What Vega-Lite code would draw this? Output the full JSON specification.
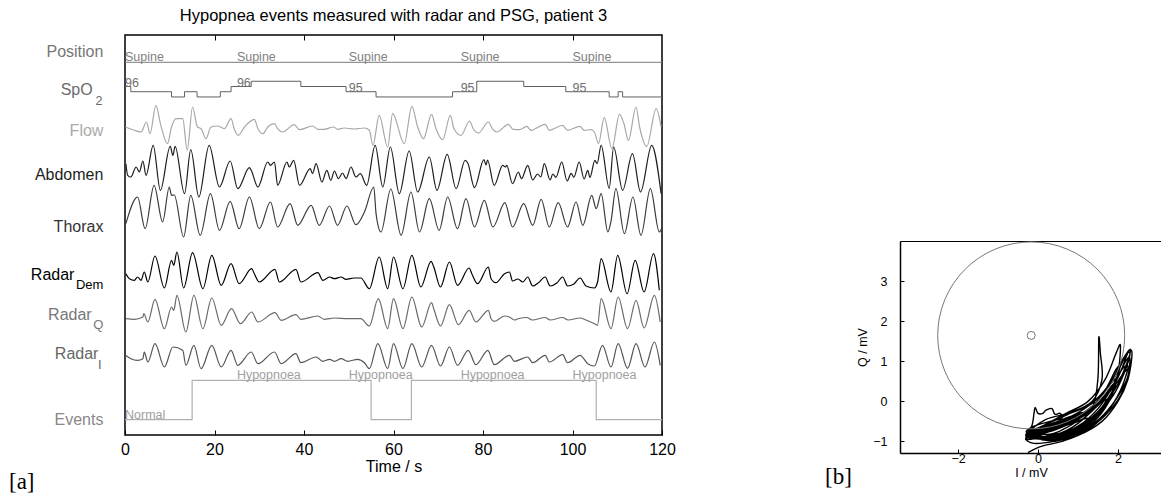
{
"$schema":"https://vega.github.io/schema/vega-lite/v6.json",
"padding":{"left":8,"top":7,"right":0,"bottom":0},
"config":{"font":"Liberation Sans","view":{"stroke":null},"axis":{"grid":false,"labelFont":"Liberation Sans","titleFont":"Liberation Sans","labelColor":"#000","titleColor":"#000","domainColor":"#000","tickColor":"#000","titleFontWeight":"normal"},"title":{"font":"Liberation Sans","fontWeight":"normal"}},
"datasets":{
"pos":[{"t":0,"v":1},{"t":120,"v":1}],
"poslab":[{"t":0,"v":1,"txt":"Supine"},{"t":25,"v":1,"txt":"Supine"},{"t":50,"v":1,"txt":"Supine"},{"t":75,"v":1,"txt":"Supine"},{"t":100,"v":1,"txt":"Supine"}],
"spo2":[{"t":0,"v":96},{"t":1.3,"v":95},{"t":10.4,"v":94},{"t":13.3,"v":95},{"t":16.1,"v":94},{"t":21.3,"v":95},{"t":23.7,"v":96},{"t":28.2,"v":97},{"t":39.3,"v":96},{"t":49.4,"v":95},{"t":56.1,"v":94},{"t":73.2,"v":95},{"t":78.6,"v":97},{"t":89.1,"v":96},{"t":98.5,"v":95},{"t":108.2,"v":94},{"t":110.2,"v":95},{"t":111.2,"v":94},{"t":120,"v":94}],
"spo2lab":[{"t":0,"v":96,"txt":"96"},{"t":25,"v":96,"txt":"96"},{"t":50,"v":95,"txt":"95"},{"t":75,"v":95,"txt":"95"},{"t":100,"v":95,"txt":"95"}],
"flow":[{"t":0.1,"a":1.7},{"t":2.1,"a":-1.6},{"t":3.6,"a":-3.3},{"t":4.8,"a":6.7},{"t":5.6,"a":-5},{"t":6.9,"a":23.4},{"t":8.0,"a":3.4},{"t":9.5,"a":-15},{"t":10.4,"a":1.7},{"t":11.4,"a":10},{"t":12.9,"a":10},{"t":13.9,"a":-21.6},{"t":15.1,"a":21.7},{"t":16.2,"a":1.7},{"t":17.0,"a":0},{"t":18.1,"a":-10},{"t":19.2,"a":1.7},{"t":20.7,"a":2.7},{"t":22.2,"a":0},{"t":23.7,"a":10},{"t":24.4,"a":0},{"t":25.3,"a":-6.6},{"t":26.7,"a":1.7},{"t":28.9,"a":9.4},{"t":29.7,"a":0},{"t":30.8,"a":-5},{"t":31.9,"a":1.7},{"t":33.4,"a":5},{"t":34.1,"a":0},{"t":35.2,"a":-3.3},{"t":37.8,"a":4},{"t":39.0,"a":-1},{"t":41.9,"a":2.7},{"t":43.1,"a":-0.6},{"t":44.5,"a":-0.6},{"t":46.6,"a":1.7},{"t":47.5,"a":-0.6},{"t":49.0,"a":0.7},{"t":51.2,"a":-0.3},{"t":53.5,"a":0.7},{"t":54.6,"a":-1.6},{"t":55.4,"a":-16.6},{"t":56.8,"a":13.4},{"t":58.7,"a":-18.3},{"t":59.8,"a":15},{"t":62.4,"a":-15},{"t":64.1,"a":22.4},{"t":65.4,"a":1.7},{"t":66.7,"a":-10},{"t":68.5,"a":14.4},{"t":69.5,"a":0},{"t":71.0,"a":-11},{"t":72.7,"a":13.4},{"t":73.5,"a":0},{"t":75.1,"a":-6.6},{"t":77.0,"a":7.7},{"t":77.8,"a":0},{"t":79.0,"a":-4.3},{"t":81.2,"a":6.7},{"t":82.2,"a":-0.7},{"t":83.1,"a":-3.3},{"t":85.7,"a":4.4},{"t":86.7,"a":-0.7},{"t":88.2,"a":-1},{"t":89.8,"a":2.4},{"t":90.7,"a":-1.6},{"t":93.9,"a":4.4},{"t":94.8,"a":-1.6},{"t":97.8,"a":3.4},{"t":98.9,"a":-1.6},{"t":101.7,"a":2.4},{"t":102.6,"a":-1.6},{"t":104.1,"a":-1},{"t":104.9,"a":-3.3},{"t":105.8,"a":-15},{"t":107.1,"a":11},{"t":108.8,"a":-20},{"t":110.5,"a":14.4},{"t":111.5,"a":5},{"t":112.5,"a":-11.7},{"t":114.2,"a":21.7},{"t":115.0,"a":1.7},{"t":116.6,"a":-17.6},{"t":118.7,"a":20},{"t":119.8,"a":1.7}],
"abd":[{"t":0.2,"a":10.3},{"t":0.6,"a":-1.3},{"t":1.3,"a":-3},{"t":2.5,"a":7},{"t":3.2,"a":2},{"t":4.0,"a":13},{"t":4.7,"a":-1.3},{"t":6.3,"a":28.7},{"t":7.9,"a":-16.3},{"t":10.1,"a":27.7},{"t":10.7,"a":18.7},{"t":11.2,"a":27.7},{"t":13.3,"a":-19.7},{"t":14.7,"a":24.3},{"t":16.5,"a":-23},{"t":18.8,"a":28.7},{"t":21.1,"a":-13},{"t":23.5,"a":13},{"t":25.2,"a":-14.7},{"t":27.8,"a":6.3},{"t":28.2,"a":3.7},{"t":29.7,"a":-13},{"t":31.9,"a":12},{"t":32.5,"a":8.7},{"t":33.4,"a":12},{"t":34.1,"a":-11.3},{"t":36.2,"a":12},{"t":36.7,"a":7},{"t":37.7,"a":13.7},{"t":39.0,"a":-11.3},{"t":41.4,"a":5.3},{"t":41.9,"a":0.3},{"t":42.7,"a":10.3},{"t":44.0,"a":-8},{"t":45.1,"a":3.7},{"t":46.0,"a":-6.3},{"t":46.8,"a":3},{"t":47.7,"a":-4.7},{"t":48.6,"a":1},{"t":49.4,"a":-4.7},{"t":50.5,"a":7},{"t":51.6,"a":-3},{"t":52.6,"a":0.3},{"t":54.0,"a":-11.3},{"t":55.9,"a":28.7},{"t":57.6,"a":-13},{"t":59.3,"a":27},{"t":61.3,"a":-19.7},{"t":63.5,"a":23},{"t":65.4,"a":-18},{"t":68.0,"a":17},{"t":69.7,"a":-16.3},{"t":72.0,"a":19.7},{"t":74.0,"a":-14.7},{"t":76.0,"a":13.7},{"t":76.6,"a":11},{"t":78.1,"a":-13.7},{"t":80.2,"a":14.3},{"t":80.7,"a":9},{"t":81.0,"a":14},{"t":82.5,"a":-11.3},{"t":84.4,"a":8.7},{"t":85.0,"a":7},{"t":85.3,"a":8.7},{"t":86.6,"a":-9.7},{"t":87.9,"a":2},{"t":88.6,"a":-4.7},{"t":90.0,"a":8.7},{"t":91.1,"a":-6},{"t":92.2,"a":0},{"t":92.9,"a":-3},{"t":93.7,"a":10.3},{"t":95.0,"a":-6},{"t":95.6,"a":0},{"t":96.3,"a":-3.3},{"t":97.6,"a":12},{"t":98.8,"a":-7},{"t":99.7,"a":0.6},{"t":100.3,"a":-3.3},{"t":101.5,"a":12},{"t":102.6,"a":-5},{"t":103.4,"a":3.7},{"t":103.9,"a":-3.3},{"t":105.0,"a":13.7},{"t":105.5,"a":10.3},{"t":106.4,"a":28.7},{"t":108.2,"a":-14.3},{"t":109.2,"a":27},{"t":111.2,"a":-16.3},{"t":113.4,"a":20.3},{"t":115.2,"a":-18},{"t":117.7,"a":28.7},{"t":119.8,"a":-19.7}],
"tho":[{"t":0.2,"a":-11.7},{"t":2.8,"a":15},{"t":4.5,"a":-16.7},{"t":6.5,"a":26.7},{"t":8.4,"a":-10},{"t":9.9,"a":25},{"t":10.4,"a":16.7},{"t":11.0,"a":17},{"t":13.1,"a":-25},{"t":14.7,"a":16.7},{"t":16.8,"a":-23.3},{"t":19.1,"a":18.3},{"t":21.1,"a":-18.3},{"t":23.5,"a":10.7},{"t":25.5,"a":-16.7},{"t":27.8,"a":15},{"t":30.0,"a":-16.7},{"t":32.5,"a":10},{"t":34.1,"a":-15},{"t":36.9,"a":8.3},{"t":38.6,"a":-13.3},{"t":41.6,"a":6.7},{"t":43.4,"a":-13.3},{"t":45.7,"a":6},{"t":47.5,"a":-13.3},{"t":49.6,"a":6},{"t":51.6,"a":-12.7},{"t":53.5,"a":0},{"t":55.6,"a":25},{"t":56.1,"a":-1.7},{"t":57.2,"a":-20},{"t":59.4,"a":23},{"t":61.7,"a":-23.3},{"t":63.9,"a":20},{"t":65.8,"a":-20},{"t":68.0,"a":13.3},{"t":70.2,"a":-18.3},{"t":72.1,"a":15},{"t":74.3,"a":-16.7},{"t":76.2,"a":13.3},{"t":78.1,"a":-15},{"t":80.3,"a":11.7},{"t":82.2,"a":-15},{"t":84.9,"a":9.3},{"t":86.6,"a":-15},{"t":89.1,"a":8.3},{"t":91.1,"a":-13.3},{"t":93.0,"a":12.7},{"t":94.8,"a":-15},{"t":96.8,"a":9.3},{"t":98.9,"a":-15},{"t":100.8,"a":10},{"t":102.3,"a":-13.3},{"t":104.3,"a":16.7},{"t":105.3,"a":3.3},{"t":106.4,"a":18.3},{"t":107.9,"a":-20},{"t":108.6,"a":-9.3},{"t":109.7,"a":23.3},{"t":111.6,"a":-21.7},{"t":113.5,"a":15},{"t":115.3,"a":-23.3},{"t":117.4,"a":23.3},{"t":119.4,"a":-20},{"t":119.9,"a":-16.7}],
"dem":[{"t":0.2,"a":3.3},{"t":1.0,"a":-1.7},{"t":2.1,"a":-3.3},{"t":2.8,"a":0},{"t":3.6,"a":-3.3},{"t":4.3,"a":5},{"t":5.1,"a":-5},{"t":6.7,"a":21},{"t":8.8,"a":-11},{"t":10.4,"a":16.7},{"t":10.9,"a":11.7},{"t":11.6,"a":25},{"t":13.1,"a":-11},{"t":15.1,"a":24.3},{"t":17.4,"a":-11.7},{"t":19.4,"a":21.7},{"t":21.5,"a":-8.3},{"t":23.7,"a":13.3},{"t":25.5,"a":-6.7},{"t":28.3,"a":8.3},{"t":28.9,"a":3.3},{"t":30.0,"a":-5},{"t":33.5,"a":7.7},{"t":34.5,"a":-5},{"t":38.2,"a":7.7},{"t":39.3,"a":-5},{"t":43.1,"a":4.3},{"t":44.2,"a":-3.3},{"t":45.7,"a":0},{"t":46.8,"a":-1.7},{"t":48.3,"a":0},{"t":49.4,"a":-2.3},{"t":51.2,"a":-1},{"t":52.7,"a":-1},{"t":54.6,"a":-11.7},{"t":56.8,"a":20},{"t":58.7,"a":-11.7},{"t":60.0,"a":20},{"t":62.1,"a":-11.7},{"t":64.1,"a":21.7},{"t":66.1,"a":-10},{"t":68.4,"a":15.7},{"t":69.0,"a":10},{"t":70.5,"a":-10},{"t":72.5,"a":15},{"t":74.3,"a":-8.3},{"t":76.9,"a":9},{"t":77.5,"a":3.3},{"t":78.8,"a":-6.7},{"t":81.2,"a":10},{"t":81.8,"a":-1.7},{"t":82.9,"a":-5.7},{"t":84.8,"a":3.3},{"t":85.9,"a":5},{"t":86.6,"a":-4},{"t":87.8,"a":-2},{"t":88.9,"a":-5},{"t":90.0,"a":0},{"t":91.1,"a":-9},{"t":92.3,"a":-6},{"t":93.9,"a":0},{"t":95.0,"a":-9},{"t":96.5,"a":-6},{"t":97.8,"a":0},{"t":98.9,"a":-9},{"t":100.3,"a":-7},{"t":101.7,"a":-1},{"t":103.0,"a":-9},{"t":104.9,"a":-11},{"t":105.6,"a":-5},{"t":106.4,"a":18.3},{"t":108.6,"a":-15},{"t":110.1,"a":21.7},{"t":112.2,"a":-16.7},{"t":114.0,"a":16.7},{"t":116.0,"a":-15},{"t":118.1,"a":23.3},{"t":119.4,"a":-13.3}],
"rq":[{"t":0.2,"a":-2.7},{"t":2.1,"a":-3.3},{"t":4.0,"a":-1},{"t":4.2,"a":2.3},{"t":5.1,"a":-6},{"t":6.7,"a":16.7},{"t":8.8,"a":-12.7},{"t":10.4,"a":9},{"t":10.9,"a":5.7},{"t":11.6,"a":20.7},{"t":13.6,"a":-16},{"t":15.4,"a":20.7},{"t":17.4,"a":-12.7},{"t":19.4,"a":18},{"t":21.5,"a":-9.3},{"t":23.8,"a":7.3},{"t":25.8,"a":-7.7},{"t":28.3,"a":4},{"t":29.7,"a":-6},{"t":33.5,"a":3.3},{"t":34.9,"a":-4.3},{"t":38.2,"a":1.3},{"t":39.3,"a":-3.3},{"t":43.1,"a":0},{"t":44.5,"a":-3.3},{"t":46.8,"a":-2},{"t":49.8,"a":-2.7},{"t":52.7,"a":-2.7},{"t":54.6,"a":-10},{"t":56.6,"a":17.3},{"t":58.7,"a":-12.7},{"t":60.0,"a":17.3},{"t":62.1,"a":-12.7},{"t":64.1,"a":19},{"t":66.3,"a":-11},{"t":68.5,"a":13.3},{"t":69.1,"a":5.7},{"t":70.5,"a":-10},{"t":72.5,"a":11.3},{"t":74.5,"a":-8.7},{"t":76.9,"a":5.7},{"t":78.4,"a":-6},{"t":81.2,"a":5.7},{"t":81.8,"a":-2.7},{"t":82.5,"a":-5.3},{"t":84.8,"a":0},{"t":85.9,"a":-1},{"t":87.0,"a":-4},{"t":88.0,"a":-2.5},{"t":89.8,"a":-1.5},{"t":91.0,"a":-4},{"t":93.9,"a":-1.5},{"t":95.0,"a":-4},{"t":97.8,"a":-1.5},{"t":99.0,"a":-4},{"t":101.7,"a":-2},{"t":103.0,"a":-4},{"t":104.9,"a":-7.7},{"t":105.6,"a":-9.3},{"t":106.4,"a":17.3},{"t":108.6,"a":-12.7},{"t":110.2,"a":19},{"t":112.3,"a":-12.7},{"t":114.2,"a":15.7},{"t":116.0,"a":-12},{"t":118.3,"a":20.7},{"t":119.6,"a":-6}],
"ri":[{"t":0.1,"a":0.7},{"t":1.3,"a":-2.7},{"t":2.8,"a":-4.3},{"t":4.0,"a":-2.7},{"t":4.3,"a":4},{"t":5.1,"a":-6},{"t":6.7,"a":12.3},{"t":8.8,"a":-11},{"t":10.7,"a":9},{"t":12.9,"a":5.7},{"t":13.6,"a":-9.3},{"t":15.4,"a":10.7},{"t":17.0,"a":-12.7},{"t":19.4,"a":10.7},{"t":21.5,"a":-11},{"t":23.7,"a":5.7},{"t":25.2,"a":-9.3},{"t":28.2,"a":4},{"t":29.7,"a":-7.7},{"t":33.4,"a":4},{"t":34.9,"a":-7.7},{"t":38.2,"a":2.3},{"t":39.3,"a":-6.7},{"t":42.7,"a":-1},{"t":44.2,"a":-5.3},{"t":45.7,"a":-3.3},{"t":46.8,"a":-5.3},{"t":48.3,"a":-2.7},{"t":49.8,"a":-5.3},{"t":52.0,"a":-3.3},{"t":53.5,"a":-6.7},{"t":54.6,"a":-12.7},{"t":56.5,"a":12.3},{"t":58.7,"a":-12.7},{"t":60.0,"a":12.3},{"t":62.1,"a":-12.7},{"t":64.1,"a":12.3},{"t":66.3,"a":-11},{"t":68.5,"a":10.7},{"t":70.5,"a":-10},{"t":72.5,"a":9},{"t":74.3,"a":-9.3},{"t":76.7,"a":5.7},{"t":78.4,"a":-8.7},{"t":81.1,"a":5.7},{"t":82.5,"a":-8.7},{"t":85.9,"a":0.7},{"t":87.0,"a":-5.3},{"t":90.0,"a":-1},{"t":91.1,"a":-6.7},{"t":93.9,"a":0.7},{"t":94.8,"a":-6},{"t":97.8,"a":1.3},{"t":98.9,"a":-6.7},{"t":101.7,"a":0.7},{"t":103.4,"a":-7.7},{"t":104.9,"a":-10},{"t":106.7,"a":10.7},{"t":108.6,"a":-11},{"t":110.2,"a":12.3},{"t":112.3,"a":-12.3},{"t":114.2,"a":12.3},{"t":116.2,"a":-11},{"t":118.3,"a":14},{"t":119.6,"a":-9.3}],
"ev":[{"t":0,"v":0},{"t":15,"v":1},{"t":55,"v":0},{"t":64,"v":1},{"t":105.3,"v":0},{"t":120,"v":0}],
"evlab":[{"t":0,"v":0,"txt":"Normal"},{"t":25,"v":1,"txt":"Hypopnoea"},{"t":50,"v":1,"txt":"Hypopnoea"},{"t":75,"v":1,"txt":"Hypopnoea"},{"t":100,"v":1,"txt":"Hypopnoea"}],
"iq":[{"k":0,"x":-0.25,"y":-1.28},{"k":1,"x":0.1,"y":-1.12},{"k":2,"x":0.6,"y":-1.0},{"k":3,"x":1.2,"y":-0.75},{"k":4,"x":1.7,"y":-0.3},{"k":5,"x":2.05,"y":0.25},{"k":6,"x":2.25,"y":0.85},{"k":7,"x":2.1,"y":0.8},{"k":8,"x":1.75,"y":0.2},{"k":9,"x":1.25,"y":-0.25},{"k":10,"x":0.6,"y":-0.6},{"k":11,"x":0.0,"y":-0.8},{"k":12,"x":-0.3,"y":-0.95},
{"k":13,"x":0.35,"y":-0.84},{"k":14,"x":0.95,"y":-0.66},{"k":15,"x":1.5,"y":-0.25},{"k":16,"x":1.92,"y":0.3},{"k":17,"x":2.2,"y":0.9},{"k":18,"x":2.31,"y":1.3},{"k":19,"x":2.12,"y":1.05},{"k":20,"x":1.75,"y":0.38},{"k":21,"x":1.25,"y":-0.12},{"k":22,"x":0.65,"y":-0.46},{"k":23,"x":0.05,"y":-0.7},{"k":24,"x":-0.25,"y":-0.8},
{"k":25,"x":0.3,"y":-0.9},{"k":26,"x":0.9,"y":-0.75},{"k":27,"x":1.45,"y":-0.38},{"k":28,"x":1.88,"y":0.15},{"k":29,"x":2.15,"y":0.7},{"k":30,"x":2.3,"y":1.18},{"k":31,"x":2.2,"y":1.15},{"k":32,"x":1.85,"y":0.5},{"k":33,"x":1.35,"y":-0.05},{"k":34,"x":0.8,"y":-0.3},{"k":35,"x":0.15,"y":-0.6},{"k":36,"x":-0.28,"y":-0.82},
{"k":37,"x":0.2,"y":-0.92},{"k":38,"x":0.85,"y":-0.8},{"k":39,"x":1.4,"y":-0.45},{"k":40,"x":1.8,"y":0.1},{"k":41,"x":2.0,"y":0.7},{"k":42,"x":2.06,"y":1.4},{"k":43,"x":1.95,"y":1.2},{"k":44,"x":1.68,"y":0.55},{"k":45,"x":1.25,"y":0.0},{"k":46,"x":0.7,"y":-0.3},{"k":47,"x":0.1,"y":-0.62},{"k":48,"x":-0.3,"y":-0.85},
{"k":49,"x":-0.15,"y":-0.6},{"k":50,"x":-0.1,"y":-0.3},{"k":51,"x":-0.07,"y":-0.15},{"k":52,"x":0.0,"y":-0.3},{"k":53,"x":0.12,"y":-0.3},{"k":54,"x":0.2,"y":-0.22},{"k":55,"x":0.35,"y":-0.18},{"k":56,"x":0.42,"y":-0.32},{"k":57,"x":0.55,"y":-0.3},{"k":58,"x":0.6,"y":-0.42},{"k":59,"x":0.3,"y":-0.5},{"k":60,"x":-0.1,"y":-0.62},{"k":61,"x":-0.28,"y":-0.78},
{"k":62,"x":0.3,"y":-0.82},{"k":63,"x":0.7,"y":-0.66},{"k":64,"x":0.95,"y":-0.5},{"k":65,"x":0.85,"y":-0.48},{"k":66,"x":0.5,"y":-0.6},{"k":67,"x":0.0,"y":-0.78},{"k":68,"x":-0.2,"y":-0.9},
{"k":69,"x":0.2,"y":-0.72},{"k":70,"x":0.6,"y":-0.55},{"k":71,"x":0.8,"y":-0.42},{"k":72,"x":1.0,"y":-0.3},{"k":73,"x":0.85,"y":-0.36},{"k":74,"x":0.5,"y":-0.5},{"k":75,"x":0.15,"y":-0.62},{"k":76,"x":-0.22,"y":-0.75},
{"k":77,"x":0.25,"y":-0.76},{"k":78,"x":0.7,"y":-0.6},{"k":79,"x":1.05,"y":-0.38},{"k":80,"x":1.2,"y":-0.25},{"k":81,"x":1.05,"y":-0.32},{"k":82,"x":0.6,"y":-0.52},{"k":83,"x":0.1,"y":-0.7},{"k":84,"x":-0.25,"y":-0.86},
{"k":85,"x":0.3,"y":-0.7},{"k":86,"x":0.75,"y":-0.5},{"k":87,"x":1.1,"y":-0.28},{"k":88,"x":0.9,"y":-0.35},{"k":89,"x":0.45,"y":-0.55},{"k":90,"x":-0.1,"y":-0.74},
{"k":91,"x":0.4,"y":-0.95},{"k":92,"x":0.95,"y":-0.75},{"k":93,"x":1.25,"y":-0.45},{"k":94,"x":1.1,"y":-0.45},{"k":95,"x":0.6,"y":-0.62},{"k":96,"x":-0.1,"y":-0.84},
{"k":97,"x":0.5,"y":-0.88},{"k":98,"x":1.1,"y":-0.66},{"k":99,"x":1.55,"y":-0.22},{"k":100,"x":1.7,"y":0.05},{"k":101,"x":1.55,"y":-0.05},{"k":102,"x":1.1,"y":-0.45},{"k":103,"x":0.5,"y":-0.66},{"k":104,"x":-0.15,"y":-0.88},
{"k":105,"x":0.4,"y":-0.85},{"k":106,"x":1.0,"y":-0.55},{"k":107,"x":1.38,"y":-0.1},{"k":108,"x":1.5,"y":0.6},{"k":109,"x":1.52,"y":1.6},{"k":110,"x":1.56,"y":1.2},{"k":111,"x":1.6,"y":0.55},{"k":112,"x":1.35,"y":0.0},{"k":113,"x":0.8,"y":-0.28},{"k":114,"x":0.2,"y":-0.45},{"k":115,"x":-0.22,"y":-0.8},
{"k":116,"x":0.4,"y":-0.9},{"k":117,"x":1.0,"y":-0.72},{"k":118,"x":1.5,"y":-0.3},{"k":119,"x":1.85,"y":0.2},{"k":120,"x":1.95,"y":0.55},{"k":121,"x":1.8,"y":0.42},{"k":122,"x":1.4,"y":-0.08},{"k":123,"x":0.9,"y":-0.42},{"k":124,"x":0.3,"y":-0.64},{"k":125,"x":-0.25,"y":-0.85},
{"k":126,"x":0.3,"y":-0.95},{"k":127,"x":0.9,"y":-0.8},{"k":128,"x":1.4,"y":-0.5},{"k":129,"x":1.75,"y":-0.05},{"k":130,"x":1.95,"y":0.45},{"k":131,"x":1.85,"y":0.4},{"k":132,"x":1.5,"y":-0.05},{"k":133,"x":1.0,"y":-0.4},{"k":134,"x":0.4,"y":-0.62},{"k":135,"x":-0.2,"y":-0.82},
{"k":136,"x":0.3,"y":-0.88},{"k":137,"x":0.9,"y":-0.72},{"k":138,"x":1.4,"y":-0.38},{"k":139,"x":1.7,"y":0.0},{"k":140,"x":1.9,"y":0.35},{"k":141,"x":1.75,"y":0.25},{"k":142,"x":1.35,"y":-0.2},{"k":143,"x":0.85,"y":-0.5},{"k":144,"x":0.2,"y":-0.7},{"k":145,"x":-0.3,"y":-0.88},
{"k":146,"x":0.35,"y":-0.95},{"k":147,"x":1.0,"y":-0.78},{"k":148,"x":1.55,"y":-0.42},{"k":149,"x":1.95,"y":0.05},{"k":150,"x":2.2,"y":0.5},{"k":151,"x":2.28,"y":0.8},{"k":152,"x":2.15,"y":0.72},{"k":153,"x":1.8,"y":0.25},{"k":154,"x":1.3,"y":-0.2},{"k":155,"x":0.7,"y":-0.5},{"k":156,"x":0.05,"y":-0.72},{"k":157,"x":-0.28,"y":-0.9},
{"k":158,"x":0.4,"y":-0.85},{"k":159,"x":1.0,"y":-0.62},{"k":160,"x":1.5,"y":-0.18},{"k":161,"x":1.85,"y":0.35},{"k":162,"x":2.05,"y":0.85},{"k":163,"x":1.95,"y":0.8},{"k":164,"x":1.6,"y":0.15},{"k":165,"x":1.1,"y":-0.32},{"k":166,"x":0.45,"y":-0.6},{"k":167,"x":-0.2,"y":-0.8},
{"k":168,"x":0.25,"y":-0.98},{"k":169,"x":0.9,"y":-0.85},{"k":170,"x":1.45,"y":-0.55},{"k":171,"x":1.9,"y":-0.1},{"k":172,"x":2.18,"y":0.4},{"k":173,"x":2.3,"y":1.0},{"k":174,"x":2.22,"y":1.05},{"k":175,"x":1.9,"y":0.45},{"k":176,"x":1.45,"y":-0.1},{"k":177,"x":0.9,"y":-0.48},{"k":178,"x":0.2,"y":-0.72},{"k":179,"x":-0.3,"y":-0.9},
{"k":180,"x":-0.1,"y":-1.05},{"k":181,"x":0.4,"y":-1.0},{"k":182,"x":1.0,"y":-0.85},{"k":183,"x":1.6,"y":-0.5},{"k":184,"x":2.0,"y":0.0},{"k":185,"x":2.25,"y":0.55},{"k":186,"x":2.35,"y":1.2},{"k":187,"x":2.25,"y":1.22},{"k":188,"x":2.0,"y":0.6},{"k":189,"x":1.6,"y":0.0},{"k":190,"x":1.0,"y":-0.45},{"k":191,"x":0.4,"y":-0.72},{"k":192,"x":-0.2,"y":-0.9}]
},
"hconcat":[
{
"width":537,"height":400,
"view":{"stroke":"#000","strokeWidth":1.5},
"title":{"text":"Hypopnea events measured with radar and PSG, patient 3","fontSize":16.5,"offset":-3,"baseline":"alphabetic","anchor":"middle","frame":"group","color":"#000"},
"resolve":{"scale":{"x":"independent","y":"independent"}},
"layer":[
{"layer":[
{"data":{"name":"pos"},"mark":{"type":"line","color":"#7a7a7a","strokeWidth":1},"encoding":{"x":{"field":"t","type":"quantitative","scale":{"domain":[0,120],"nice":false,"zero":false},"axis":null},"y":{"field":"v","type":"quantitative","scale":{"domain":[-17.635,2.365],"nice":false,"zero":false},"axis":null}}},
{"data":{"name":"poslab"},"mark":{"type":"text","align":"left","baseline":"alphabetic","dy":-1,"fontSize":12.5,"color":"#808080"},"encoding":{"x":{"field":"t","type":"quantitative","scale":{"domain":[0,120],"nice":false,"zero":false},"axis":null},"y":{"field":"v","type":"quantitative","scale":{"domain":[-17.635,2.365],"nice":false,"zero":false},"axis":null},"text":{"field":"txt"}}},
{"data":{"values":[{"name":"Position"}]},"mark":{"type":"text","align":"right","baseline":"middle","dx":-21.6,"fontSize":16,"color":"#777777"},"encoding":{"x":{"datum":0,"type":"quantitative","scale":{"domain":[0,120],"nice":false,"zero":false},"axis":null},"y":{"datum":1.525,"type":"quantitative","scale":{"domain":[-17.635,2.365],"nice":false,"zero":false},"axis":null},"text":{"field":"name"}}}
]},
{"layer":[
{"data":{"name":"spo2"},"mark":{"type":"line","color":"#606060","strokeWidth":1,"interpolate":"step-after"},"encoding":{"x":{"field":"t","type":"quantitative","scale":{"domain":[0,120],"nice":false,"zero":false},"axis":null},"y":{"field":"v","type":"quantitative","scale":{"domain":[29.35,105.85],"nice":false,"zero":false},"axis":null}}},
{"data":{"name":"spo2lab"},"mark":{"type":"text","align":"left","baseline":"alphabetic","dy":0,"fontSize":12.5,"color":"#707070"},"encoding":{"x":{"field":"t","type":"quantitative","scale":{"domain":[0,120],"nice":false,"zero":false},"axis":null},"y":{"field":"v","type":"quantitative","scale":{"domain":[29.35,105.85],"nice":false,"zero":false},"axis":null},"text":{"field":"txt"}}},
{"data":{"values":[{"name":"SpO"}]},"mark":{"type":"text","align":"right","baseline":"middle","dx":-32.3,"fontSize":16,"color":"#6a6a6a"},"encoding":{"x":{"datum":0,"type":"quantitative","scale":{"domain":[0,120],"nice":false,"zero":false},"axis":null},"y":{"datum":95.3,"type":"quantitative","scale":{"domain":[29.35,105.85],"nice":false,"zero":false},"axis":null},"text":{"field":"name"}}},
{"data":{"values":[{"name":"2"}]},"mark":{"type":"text","align":"right","baseline":"middle","dx":-22.6,"dy":11,"fontSize":12.5,"color":"#6a6a6a"},"encoding":{"x":{"datum":0,"type":"quantitative","scale":{"domain":[0,120],"nice":false,"zero":false},"axis":null},"y":{"datum":95.3,"type":"quantitative","scale":{"domain":[29.35,105.85],"nice":false,"zero":false},"axis":null},"text":{"field":"name"}}}
]},
{"layer":[
{"data":{"name":"flow"},"mark":{"type":"line","color":"#a8a8a8","strokeWidth":1.2,"interpolate":"monotone"},"encoding":{"x":{"field":"t","type":"quantitative","scale":{"domain":[0,120],"nice":false,"zero":false},"axis":null},"y":{"field":"a","type":"quantitative","scale":{"domain":[-306.3,93.7],"nice":false,"zero":false},"axis":null}}},
{"data":{"values":[{"name":"Flow"}]},"mark":{"type":"text","align":"right","baseline":"middle","dx":-21.6,"fontSize":16,"color":"#aaaaaa"},"encoding":{"x":{"datum":0,"type":"quantitative","scale":{"domain":[0,120],"nice":false,"zero":false},"axis":null},"y":{"datum":-2.5,"type":"quantitative","scale":{"domain":[-306.3,93.7],"nice":false,"zero":false},"axis":null},"text":{"field":"name"}}}
]},
{"layer":[
{"data":{"name":"abd"},"mark":{"type":"line","color":"#1e1e1e","strokeWidth":1.2,"interpolate":"monotone"},"encoding":{"x":{"field":"t","type":"quantitative","scale":{"domain":[0,120],"nice":false,"zero":false},"axis":null},"y":{"field":"a","type":"quantitative","scale":{"domain":[-261,139],"nice":false,"zero":false},"axis":null}}},
{"data":{"values":[{"name":"Abdomen"}]},"mark":{"type":"text","align":"right","baseline":"middle","dx":-21.6,"fontSize":16,"color":"#1e1e1e"},"encoding":{"x":{"datum":0,"type":"quantitative","scale":{"domain":[0,120],"nice":false,"zero":false},"axis":null},"y":{"datum":-0.5,"type":"quantitative","scale":{"domain":[-261,139],"nice":false,"zero":false},"axis":null},"text":{"field":"name"}}}
]},
{"layer":[
{"data":{"name":"tho"},"mark":{"type":"line","color":"#3c3c3c","strokeWidth":1.2,"interpolate":"monotone"},"encoding":{"x":{"field":"t","type":"quantitative","scale":{"domain":[0,120],"nice":false,"zero":false},"axis":null},"y":{"field":"a","type":"quantitative","scale":{"domain":[-223,177],"nice":false,"zero":false},"axis":null}}},
{"data":{"values":[{"name":"Thorax"}]},"mark":{"type":"text","align":"right","baseline":"middle","dx":-21.6,"fontSize":16,"color":"#333333"},"encoding":{"x":{"datum":0,"type":"quantitative","scale":{"domain":[0,120],"nice":false,"zero":false},"axis":null},"y":{"datum":-15.3,"type":"quantitative","scale":{"domain":[-223,177],"nice":false,"zero":false},"axis":null},"text":{"field":"name"}}}
]},
{"layer":[
{"data":{"name":"dem"},"mark":{"type":"line","color":"#000000","strokeWidth":1.2,"interpolate":"monotone"},"encoding":{"x":{"field":"t","type":"quantitative","scale":{"domain":[0,120],"nice":false,"zero":false},"axis":null},"y":{"field":"a","type":"quantitative","scale":{"domain":[-158,242],"nice":false,"zero":false},"axis":null}}},
{"data":{"values":[{"name":"Radar"}]},"mark":{"type":"text","align":"right","baseline":"middle","dx":-50.6,"fontSize":16,"color":"#000000"},"encoding":{"x":{"datum":0,"type":"quantitative","scale":{"domain":[0,120],"nice":false,"zero":false},"axis":null},"y":{"datum":1.8,"type":"quantitative","scale":{"domain":[-158,242],"nice":false,"zero":false},"axis":null},"text":{"field":"name"}}},
{"data":{"values":[{"name":"Dem"}]},"mark":{"type":"text","align":"right","baseline":"middle","dx":-21.6,"dy":9.6,"fontSize":13,"color":"#000000"},"encoding":{"x":{"datum":0,"type":"quantitative","scale":{"domain":[0,120],"nice":false,"zero":false},"axis":null},"y":{"datum":1.8,"type":"quantitative","scale":{"domain":[-158,242],"nice":false,"zero":false},"axis":null},"text":{"field":"name"}}}
]},
{"layer":[
{"data":{"name":"rq"},"mark":{"type":"line","color":"#6a6a6a","strokeWidth":1.2,"interpolate":"monotone"},"encoding":{"x":{"field":"t","type":"quantitative","scale":{"domain":[0,120],"nice":false,"zero":false},"axis":null},"y":{"field":"a","type":"quantitative","scale":{"domain":[-119,281],"nice":false,"zero":false},"axis":null}}},
{"data":{"values":[{"name":"Radar"}]},"mark":{"type":"text","align":"right","baseline":"middle","dx":-33.3,"fontSize":16,"color":"#777777"},"encoding":{"x":{"datum":0,"type":"quantitative","scale":{"domain":[0,120],"nice":false,"zero":false},"axis":null},"y":{"datum":1.5,"type":"quantitative","scale":{"domain":[-119,281],"nice":false,"zero":false},"axis":null},"text":{"field":"name"}}},
{"data":{"values":[{"name":"Q"}]},"mark":{"type":"text","align":"right","baseline":"middle","dx":-21.6,"dy":10,"fontSize":13,"color":"#777777"},"encoding":{"x":{"datum":0,"type":"quantitative","scale":{"domain":[0,120],"nice":false,"zero":false},"axis":null},"y":{"datum":1.5,"type":"quantitative","scale":{"domain":[-119,281],"nice":false,"zero":false},"axis":null},"text":{"field":"name"}}}
]},
{"layer":[
{"data":{"name":"ri"},"mark":{"type":"line","color":"#555555","strokeWidth":1.2,"interpolate":"monotone"},"encoding":{"x":{"field":"t","type":"quantitative","scale":{"domain":[0,120],"nice":false,"zero":false},"axis":null},"y":{"field":"a","type":"quantitative","scale":{"domain":[-79,321],"nice":false,"zero":false},"axis":null}}},
{"data":{"values":[{"name":"Radar"}]},"mark":{"type":"text","align":"right","baseline":"middle","dx":-26.6,"fontSize":16,"color":"#666666"},"encoding":{"x":{"datum":0,"type":"quantitative","scale":{"domain":[0,120],"nice":false,"zero":false},"axis":null},"y":{"datum":2,"type":"quantitative","scale":{"domain":[-79,321],"nice":false,"zero":false},"axis":null},"text":{"field":"name"}}},
{"data":{"values":[{"name":"I"}]},"mark":{"type":"text","align":"right","baseline":"middle","dx":-23.3,"dy":11,"fontSize":13,"color":"#666666"},"encoding":{"x":{"datum":0,"type":"quantitative","scale":{"domain":[0,120],"nice":false,"zero":false},"axis":null},"y":{"datum":2,"type":"quantitative","scale":{"domain":[-79,321],"nice":false,"zero":false},"axis":null},"text":{"field":"name"}}}
]},
{"layer":[
{"data":{"name":"ev"},"mark":{"type":"line","color":"#b0b0b0","strokeWidth":1.2,"interpolate":"step-after"},"encoding":{"x":{"field":"t","type":"quantitative","scale":{"domain":[0,120],"nice":false,"zero":false},"axis":{"orient":"bottom","values":[0,20,40,60,80,100,120],"tickSize":-5,"tickWidth":1,"labelPadding":11,"labelFontSize":16,"labelFlush":false,"labelOverlap":false,"domain":false,"title":"Time / s","titleFontSize":16,"titlePadding":1}},"y":{"field":"v","type":"quantitative","scale":{"domain":[-0.388,9.764],"nice":false,"zero":false},"axis":null}}},
{"data":{"name":"evlab"},"mark":{"type":"text","align":"left","baseline":"alphabetic","dy":-1,"fontSize":12.5,"color":"#a0a0a0"},"encoding":{"x":{"field":"t","type":"quantitative","scale":{"domain":[0,120],"nice":false,"zero":false},"axis":{"orient":"bottom","values":[0,20,40,60,80,100,120],"tickSize":-5,"tickWidth":1,"labelPadding":11,"labelFontSize":16,"labelFlush":false,"labelOverlap":false,"domain":false,"title":"Time / s","titleFontSize":16,"titlePadding":1}},"y":{"field":"v","type":"quantitative","scale":{"domain":[-0.388,9.764],"nice":false,"zero":false},"axis":null},"text":{"field":"txt"}}},
{"data":{"values":[{"name":"Events"}]},"mark":{"type":"text","align":"right","baseline":"middle","dx":-21.6,"fontSize":16,"color":"#888888"},"encoding":{"x":{"datum":0,"type":"quantitative","scale":{"domain":[0,120],"nice":false,"zero":false},"axis":{"orient":"bottom","values":[0,20,40,60,80,100,120],"tickSize":-5,"tickWidth":1,"labelPadding":11,"labelFontSize":16,"labelFlush":false,"labelOverlap":false,"domain":false,"title":"Time / s","titleFontSize":16,"titlePadding":1}},"y":{"datum":0,"type":"quantitative","scale":{"domain":[-0.388,9.764],"nice":false,"zero":false},"axis":null},"text":{"field":"name"}}},
{"data":{"values":[{"name":"[a]"}]},"mark":{"type":"text","align":"left","baseline":"alphabetic","dx":-116,"dy":54,"font":"Liberation Serif","fontSize":23,"color":"#000000"},"encoding":{"x":{"datum":0,"type":"quantitative","scale":{"domain":[0,120],"nice":false,"zero":false},"axis":{"orient":"bottom","values":[0,20,40,60,80,100,120],"tickSize":-5,"tickWidth":1,"labelPadding":11,"labelFontSize":16,"labelFlush":false,"labelOverlap":false,"domain":false,"title":"Time / s","titleFontSize":16,"titlePadding":1}},"y":{"datum":-0.388,"type":"quantitative","scale":{"domain":[-0.388,9.764],"nice":false,"zero":false},"axis":null},"text":{"field":"name"}}}
]},
{"data":{"values":[]},"mark":"point","encoding":{"x":{"field":"t","type":"quantitative","scale":{"domain":[0,120],"nice":false,"zero":false},"axis":{"orient":"top","values":[20,40,60,80,100],"tickSize":-5,"labels":false,"domain":false,"title":null}}}}
]
},
{
"vconcat":[
{"width":262,"height":206,"data":{"values":[]},"mark":"point"},
{
"width":262,"height":212,
"resolve":{"scale":{"x":"independent"}},
"layer":[
{"data":{"name":"iq"},"mark":{"type":"line","color":"#000000","strokeWidth":1.4,"interpolate":"cardinal"},"encoding":{"x":{"field":"x","type":"quantitative","scale":{"domain":[-3.45,3.1],"nice":false,"zero":false},"axis":{"orient":"bottom","values":[-2,0,2],"tickSize":-4,"labelPadding":3,"labelFontSize":12.5,"labelFlush":false,"domainWidth":1.5,"title":"I / mV","titleFontSize":12.5,"titlePadding":2}},"y":{"field":"y","type":"quantitative","scale":{"domain":[-1.29,4.01],"nice":false,"zero":false},"axis":{"orient":"left","values":[-1,0,1,2,3],"tickSize":-4,"labelPadding":17,"labelFontSize":12.5,"labelFlush":false,"domainWidth":1.5,"title":"Q / mV","titleFontSize":12.5,"titlePadding":3}},"order":{"field":"k","type":"quantitative"}}},
{"data":{"values":[{"x":-0.17,"y":1.65}]},"mark":{"type":"point","shape":"circle","filled":false,"size":34969,"color":"#777777","strokeWidth":1,"opacity":1},"encoding":{"x":{"field":"x","type":"quantitative","scale":{"domain":[-3.45,3.1],"nice":false,"zero":false},"axis":null},"y":{"field":"y","type":"quantitative","scale":{"domain":[-1.29,4.01],"nice":false,"zero":false},"axis":{"orient":"left","values":[-1,0,1,2,3],"tickSize":-4,"labelPadding":17,"labelFontSize":12.5,"labelFlush":false,"domainWidth":1.5,"title":"Q / mV","titleFontSize":12.5,"titlePadding":3}}}},
{"data":{"values":[{"x":-0.17,"y":1.65}]},"mark":{"type":"point","shape":"circle","filled":false,"size":64,"color":"#777777","strokeWidth":1,"opacity":1},"encoding":{"x":{"field":"x","type":"quantitative","scale":{"domain":[-3.45,3.1],"nice":false,"zero":false},"axis":null},"y":{"field":"y","type":"quantitative","scale":{"domain":[-1.29,4.01],"nice":false,"zero":false},"axis":{"orient":"left","values":[-1,0,1,2,3],"tickSize":-4,"labelPadding":17,"labelFontSize":12.5,"labelFlush":false,"domainWidth":1.5,"title":"Q / mV","titleFontSize":12.5,"titlePadding":3}}}},
{"data":{"values":[{"name":"[b]"}]},"mark":{"type":"text","align":"left","baseline":"alphabetic","dx":-75,"dy":31,"font":"Liberation Serif","fontSize":23,"color":"#000000"},"encoding":{"x":{"datum":-3.45,"type":"quantitative","scale":{"domain":[-3.45,3.1],"nice":false,"zero":false},"axis":null},"y":{"datum":-1.29,"type":"quantitative","scale":{"domain":[-1.29,4.01],"nice":false,"zero":false},"axis":{"orient":"left","values":[-1,0,1,2,3],"tickSize":-4,"labelPadding":17,"labelFontSize":12.5,"labelFlush":false,"domainWidth":1.5,"title":"Q / mV","titleFontSize":12.5,"titlePadding":3}},"text":{"field":"name"}}},
{"data":{"values":[]},"mark":"point","encoding":{"x":{"field":"x","type":"quantitative","scale":{"domain":[-3.45,3.1],"nice":false,"zero":false},"axis":{"orient":"top","labels":false,"ticks":false,"domainWidth":1.2,"title":null}}}}
]
}
],
"spacing":0,
"bounds":"flush"
}
],
"spacing":238,
"bounds":"flush"
}
